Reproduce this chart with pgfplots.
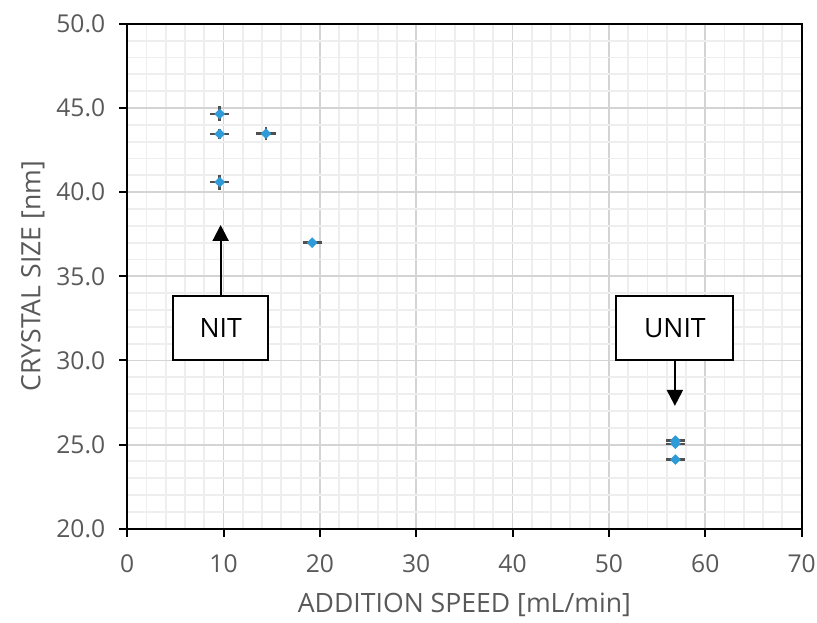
\documentclass[border=0pt]{standalone}
\usepackage{pgfplots}
\pgfplotsset{compat=1.18}
\usepackage{fontspec}
\setmainfont{Open Sans}
\usetikzlibrary{arrows.meta}

\definecolor{txtgray}{HTML}{595959}
\definecolor{ptblue}{HTML}{2E9BD8}
\definecolor{errgray}{HTML}{505050}
\definecolor{majgrid}{HTML}{D4D4D4}
\definecolor{mingrid}{HTML}{EEEEEE}

% speed, size, x error, y error
\pgfplotstableread{
x     y      ex    ey
9.6   44.65  1.0   0.45
9.6   43.46  1.0   0.30
14.4  43.48  1.0   0.40
9.6   40.60  1.0   0.45
19.2  37.00  1.0   0.08
56.9  25.24  1.0   0.12
56.9  25.05  1.0   0.12
56.9  24.11  1.0   0.08
}\crystal

\begin{document}
\begin{tikzpicture}
\begin{axis}[
  name=ax,
  scale only axis,
  width=507pt, height=379.5pt,
  xmin=0, xmax=70, ymin=20, ymax=50,
  xtick={0,10,...,70}, ytick={20,25,...,50},
  minor x tick num=4, minor y tick num=4,
  grid=both,
  major grid style={majgrid, line width=1.4pt},
  minor grid style={mingrid, line width=1.4pt},
  axis line style={black, line width=1.5pt},
  tick align=outside, tick pos=left,
  major tick length=6pt, minor tick length=0pt,
  tick style={black, line width=1.5pt},
  ticklabel style={font=\fontsize{18.5}{20}\selectfont, text=txtgray},
  /pgf/number format/assume math mode=true,
  yticklabel style={xshift=-7pt, /pgf/number format/.cd, fixed, fixed zerofill, precision=1},
  xticklabel style={yshift=-10pt, /pgf/number format/.cd, fixed, precision=0},
  xlabel={ADDITION SPEED [mL/min]},
  ylabel={CRYSTAL SIZE [nm]},
  label style={font=\fontsize{20}{22}\selectfont, text=txtgray},
  xlabel style={yshift=-8pt},
  ylabel style={yshift=2pt},
  clip=false,
]
\addplot[only marks, mark=square*, mark size=2.6pt,
  mark options={draw=ptblue, fill=ptblue, rotate=45},
  error bars/.cd, x dir=both, y dir=both, x explicit, y explicit,
  error mark=none,
  error bar style={errgray, line width=1.8pt}]
  table[x=x, y=y, x error=ex, y error=ey] {\crystal};

\draw[line width=1.6pt, -{Triangle[width=12pt, length=12pt]}]
  (axis cs:9.7,33.9) -- (axis cs:9.7,38.05);
\node[draw, line width=1.5pt, fill=white, minimum width=71pt, minimum height=48.5pt,
  font=\fontsize{20}{22}\selectfont] at (axis cs:9.7,31.94) {NIT};

\draw[line width=1.6pt, -{Triangle[width=12pt, length=12pt]}]
  (axis cs:56.85,30.0) -- (axis cs:56.85,27.3);
\node[draw, line width=1.5pt, fill=white, minimum width=88pt, minimum height=48.5pt,
  font=\fontsize{20}{22}\selectfont] at (axis cs:56.85,31.94) {UNIT};

\coordinate (bbsw) at (axis cs:-13.2,14.43);
\coordinate (bbne) at (axis cs:71.6,51.42);
\end{axis}
\pgfresetboundingbox
\useasboundingbox (bbsw) rectangle (bbne);
\end{tikzpicture}
\end{document}
